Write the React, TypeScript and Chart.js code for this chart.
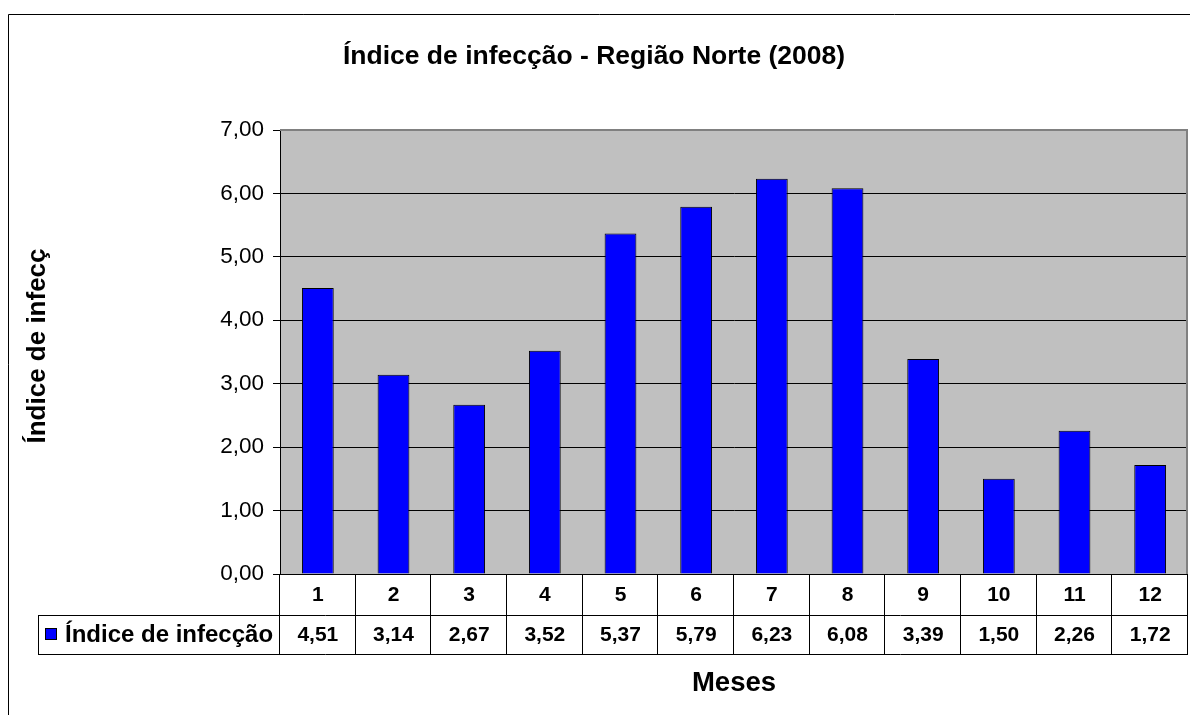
import React, { useEffect, useRef } from "react";
import { Chart, registerables } from "chart.js";

Chart.register(...registerables);

const TITLE = "Índice de infecção - Região Norte (2008)";
const Y_TITLE = "Índice de infecç";
const X_TITLE = "Meses";
const SERIES_NAME = "Índice de infecção";
const months = ["1", "2", "3", "4", "5", "6", "7", "8", "9", "10", "11", "12"];
const values = [4.51, 3.14, 2.67, 3.52, 5.37, 5.79, 6.23, 6.08, 3.39, 1.5, 2.26, 1.72];
const yTicks = [0, 1, 2, 3, 4, 5, 6, 7];

const FONT = '"Liberation Sans", Arial, sans-serif';
const BLUE = "#0000FF";
const fmt = (v: number) => v.toFixed(2).replace(".", ",");

const decorPlugin = {
  id: "decor",
  beforeDraw(chart: any) {
    const { ctx, chartArea } = chart;
    ctx.save();
    ctx.fillStyle = "#FFFFFF";
    ctx.fillRect(0, 0, chart.width, chart.height);
    ctx.fillStyle = "#C0C0C0";
    ctx.fillRect(chartArea.left, chartArea.top, chartArea.right - chartArea.left, chartArea.bottom - chartArea.top);
    ctx.restore();
  },
  afterDraw(chart: any) {
    const { ctx, chartArea } = chart;
    const x = chart.scales.x;
    const n = months.length;
    const cw = (chartArea.right - chartArea.left) / n;
    const r0 = chartArea.bottom;
    const r1 = r0 + 41;
    const r2 = r1 + 39;
    const legLeft = 38;
    ctx.save();
    // plot border top/right gray
    ctx.strokeStyle = "#808080";
    ctx.lineWidth = 2;
    ctx.beginPath();
    ctx.moveTo(chartArea.left, chartArea.top);
    ctx.lineTo(chartArea.right - 1, chartArea.top);
    ctx.lineTo(chartArea.right - 1, chartArea.bottom);
    ctx.stroke();

    // outer chart border
    ctx.strokeStyle = "#000";
    ctx.lineWidth = 1;
    ctx.beginPath();
    ctx.moveTo(8.5, chart.height);
    ctx.lineTo(8.5, 14.5);
    ctx.lineTo(chart.width, 14.5);
    ctx.stroke();

    // table lines
    ctx.beginPath();
    ctx.moveTo(chartArea.left, r0 + 0.5);
    ctx.lineTo(chartArea.right, r0 + 0.5);
    ctx.moveTo(legLeft, r1 + 0.5);
    ctx.lineTo(chartArea.right, r1 + 0.5);
    ctx.moveTo(legLeft, r2 + 0.5);
    ctx.lineTo(chartArea.right, r2 + 0.5);
    ctx.moveTo(legLeft + 0.5, r1);
    ctx.lineTo(legLeft + 0.5, r2);
    for (let i = 0; i <= n; i++) {
      const px = i < n ? x.getPixelForValue(i) - cw / 2 : x.getPixelForValue(n - 1) + cw / 2;
      const xx = Math.round(px) - 0.5;
      ctx.moveTo(xx, r0);
      ctx.lineTo(xx, r2);
    }
    ctx.stroke();

    // table texts
    ctx.fillStyle = "#000";
    ctx.textAlign = "center";
    ctx.textBaseline = "middle";
    ctx.font = `bold 21px ${FONT}`;
    for (let i = 0; i < n; i++) {
      const cx = x.getPixelForValue(i);
      ctx.fillText(months[i], cx, (r0 + r1) / 2 + 1);
      ctx.fillText(fmt(values[i]), cx, (r1 + r2) / 2 + 1);
    }

    // legend key
    ctx.fillStyle = BLUE;
    ctx.fillRect(45, 628, 12, 12);
    ctx.strokeStyle = "#000";
    ctx.strokeRect(45.5, 628.5, 11, 11);
    ctx.fillStyle = "#000";
    ctx.textAlign = "left";
    ctx.font = `bold 24px ${FONT}`;
    ctx.fillText(SERIES_NAME, 65, (r1 + r2) / 2 + 1);

    // title
    ctx.textAlign = "center";
    ctx.textBaseline = "alphabetic";
    ctx.font = `bold 26.5px ${FONT}`;
    ctx.fillText(TITLE, 594, 64);

    // x title
    ctx.font = `bold 27.5px ${FONT}`;
    ctx.fillText(X_TITLE, (chartArea.left + chartArea.right) / 2, 691);

    // y title
    ctx.save();
    ctx.translate(38, 346);
    ctx.rotate(-Math.PI / 2);
    ctx.textBaseline = "middle";
    ctx.font = `bold 26px ${FONT}`;
    ctx.fillText(Y_TITLE, 0, 0);
    ctx.restore();

    ctx.restore();
  },
};

export default function App() {
  const ref = useRef<HTMLCanvasElement | null>(null);
  useEffect(() => {
    if (!ref.current) return;
    const chart = new Chart(ref.current, {
      type: "bar",
      data: {
        labels: months,
        datasets: [
          {
            label: SERIES_NAME,
            data: values,
            backgroundColor: BLUE,
            borderColor: "#000",
            borderWidth: 1,
            categoryPercentage: 1,
            barPercentage: 0.42,
          },
        ],
      },
      options: {
        responsive: false,
        animation: false,
        layout: { padding: { left: 0, right: 2, top: 130, bottom: 141 } },
        plugins: { legend: { display: false }, title: { display: false }, tooltip: { enabled: false } },
        scales: {
          x: { display: false },
          y: {
            min: 0,
            max: 7,
            afterFit: (s: any) => {
              s.width = 280;
            },
            afterBuildTicks: (s: any) => {
              s.ticks = yTicks.map((v) => ({ value: v }));
            },
            ticks: {
              padding: 9,
              color: "#000",
              font: { family: FONT, size: 22.5 },
              callback: (v: any) => fmt(Number(v)),
            },
            grid: {
              color: (c: any) => (c.tick && c.tick.value === 7 ? "#808080" : "#000"),
              tickColor: "#000",
              tickLength: 7,
              lineWidth: 1,
            },
            border: { display: true, color: "#000", width: 1 },
          },
        },
      },
      plugins: [decorPlugin],
    });
    return () => chart.destroy();
  }, []);
  return (
    <div style={{ position: "fixed", left: 0, top: 0, width: 1190, height: 715 }}>
      <canvas ref={ref} width={1190} height={715} style={{ display: "block" }} />
    </div>
  );
}
